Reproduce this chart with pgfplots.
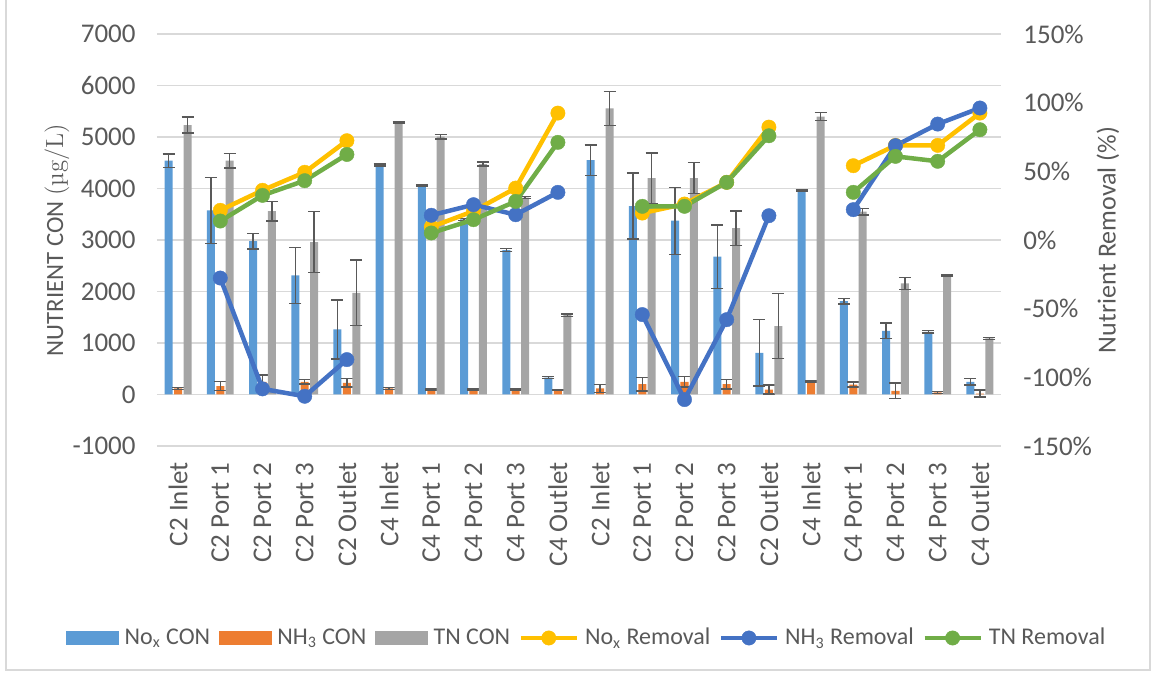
\documentclass[border=0pt]{standalone}
\usepackage{pgfplots}
\pgfplotsset{compat=1.18}
\usepackage{pgfplotstable}
\usepackage{fontspec}
\setmainfont{Carlito}

\definecolor{noxc}{HTML}{5B9BD5}
\definecolor{nh3c}{HTML}{ED7D31}
\definecolor{tnc}{HTML}{A5A5A5}
\definecolor{noxr}{HTML}{FFC000}
\definecolor{nh3r}{HTML}{4472C4}
\definecolor{tnr}{HTML}{70AD47}
\definecolor{gridc}{HTML}{D9D9D9}
\definecolor{errc}{HTML}{595959}
\definecolor{txt}{HTML}{595959}

% concentrations (ug/L) with error half-widths
\pgfplotstableread{
x nox noxe nh3 nh3e tn tne
0 4540 130 117 15 5233 155
1 3575 640 162 90 4540 140
2 2979 150 246 130 3562 190
3 2312 545 246 45 2960 595
4 1263 575 227 85 1975 635
5 4456 20 117 15 5285 15
6 4054 15 97 10 5006 45
7 3400 20 97 10 4475 40
8 2804 30 97 10 3821 20
9 330 15 84 10 1541 25
10 4553 295 117 80 5557 330
11 3659 640 200 130 4203 490
12 3374 650 246 100 4203 300
13 2675 620 200 90 3232 335
14 810 645 97 85 1328 630
15 3970 15 259 15 5395 80
16 1813 55 194 50 3549 60
17 1237 150 71 150 2157 120
18 1218 25 39 20 2319 15
19 246 65 19 65 1088 15
}\conc

% removal (%)
\pgfplotstableread{
x nox nh3 tn
0 nan nan nan
1 21.6 -27.7 13.8
2 36.2 -108.4 32.5
3 49.3 -113.8 43.2
4 72.3 -87.1 62.3
5 nan nan nan
6 9.5 18.0 5.1
7 21.0 25.7 14.8
8 37.8 18.4 28.1
9 92.4 34.7 71.1
10 nan nan nan
11 19.6 -54.3 24.5
12 26.2 -116.2 24.5
13 42.0 -58.0 42.0
14 82.2 17.7 75.9
15 nan nan nan
16 54.1 22.1 34.7
17 68.9 68.7 60.9
18 68.9 84.4 57.3
19 92.4 96.1 80.3
}\rem

\pgfplotsset{
  bars/.style={ybar, bar width=0.19, bar shift=0, fill=#1, draw=none,
    error bars/.cd, y dir=both, y explicit,
    error bar style={errc, line width=0.7pt},
    error mark options={errc, line width=0.7pt, mark size=3pt, rotate=90}},
  remline/.style={#1, line width=2.25pt, mark=*, mark size=3.6pt,
    mark options={fill=#1, draw=#1, line width=0.2pt}},
}

\begin{document}
\begin{tikzpicture}[font=\fontsize{13.5}{15.5}\selectfont, text=txt]
\useasboundingbox (0,0) rectangle (576.5pt,337pt);
\draw[gridc, line width=0.6pt] (3pt,337pt) -- (3pt,2pt) -- (575pt,2pt) -- (575pt,337pt);

\begin{axis}[
  at={(78.5pt,114pt)}, anchor=south west,
  scale only axis, width=422pt, height=206pt,
  xmin=-0.5, xmax=19.5, ymin=-1000, ymax=7000,
  ytick={-1000,0,...,7000},
  ymajorgrids, grid style={gridc, line width=0.8pt},
  axis line style={draw=none},
  xtick={0,...,19},
  xticklabels={C2 Inlet, C2 Port 1, C2 Port 2, C2 Port 3, C2 Outlet,
               C4 Inlet, C4 Port 1, C4 Port 2, C4 Port 3, C4 Outlet,
               C2 Inlet, C2 Port 1, C2 Port 2, C2 Port 3, C2 Outlet,
               C4 Inlet, C4 Port 1, C4 Port 2, C4 Port 3, C4 Outlet},
  xticklabel style={rotate=90, anchor=east, inner sep=0pt},
  xticklabel shift=8pt,
  xtick pos=left, ytick pos=left,
  xtick style={draw=none}, ytick style={draw=none},
  extra x ticks={-0.5,9.5,19.5}, extra x tick labels={},
  extra x tick style={major tick length=78pt, tick align=outside,
    tick style={draw=gridc, line width=0.8pt}},
  yticklabel style={anchor=east, inner sep=0pt},
  yticklabel shift=10.5pt,
  /pgf/number format/assume math mode=true,
  /pgf/number format/1000 sep={},
  ylabel={NUTRIENT CON {\fontfamily{lmr}\selectfont (µg/L)}},
  every axis y label/.style={at={(rel axis cs:-0.1185,0.5)}, rotate=90,
    anchor=center, font=\fontsize{12.4}{14}\selectfont},
]
\addplot[bars=noxc] table[x expr=\thisrow{x}-0.223, y=nox, y error=noxe]{\conc};
\addplot[bars=nh3c] table[x=x, y=nh3, y error=nh3e]{\conc};
\addplot[bars=tnc] table[x expr=\thisrow{x}+0.223, y=tn, y error=tne]{\conc};
\node[font=\fontsize{12}{14}\selectfont] at ([yshift=-70.5pt]axis cs:4.5,-1000) {Copper added};
\node[font=\fontsize{12}{14}\selectfont] at ([yshift=-70.5pt]axis cs:14.5,-1000) {No copper};
\end{axis}

\begin{axis}[
  at={(78.5pt,114pt)}, anchor=south west,
  scale only axis, width=422pt, height=206pt,
  xmin=-0.5, xmax=19.5, ymin=-150, ymax=150,
  ytick={-150,-100,...,150},
  axis x line=none, axis y line*=right,
  axis line style={draw=none}, ytick style={draw=none},
  yticklabel={\pgfmathprintnumber{\tick}\%},
  yticklabel style={anchor=west, inner sep=0pt},
  yticklabel shift=11pt,
  /pgf/number format/assume math mode=true,
  unbounded coords=jump,
  ylabel={Nutrient Removal (\%)},
  every axis y label/.style={at={(rel axis cs:1.1268,0.5)}, rotate=90,
    anchor=center, font=\fontsize{13}{15}\selectfont},
  legend columns=6,
  legend style={at={(rel axis cs:0.509,-0.466)}, anchor=center, draw=none,
    fill=none, font=\fontsize{12}{14}\selectfont,
    nodes={inner sep=1pt},
    /tikz/every odd column/.append style={column sep=2pt},
    /tikz/every even column/.append style={column sep=3.2pt}},
]
\addlegendimage{legend image code/.code={\fill[noxc] (0pt,-3.2pt) rectangle (26pt,3.2pt);}}
\addlegendentry{No\textsubscript{x} CON}
\addlegendimage{legend image code/.code={\fill[nh3c] (0pt,-3.2pt) rectangle (26pt,3.2pt);}}
\addlegendentry{NH\textsubscript{3} CON}
\addlegendimage{legend image code/.code={\fill[tnc] (0pt,-3.2pt) rectangle (26pt,3.2pt);}}
\addlegendentry{TN CON}
\pgfplotsset{legend image code/.code={\draw[mark repeat=2, mark phase=2]
  plot coordinates {(0pt,0pt) (14pt,0pt) (28pt,0pt)};}}
\addplot[remline=noxr] table[x=x, y=nox]{\rem};
\addlegendentry{No\textsubscript{x} Removal}
\addplot[remline=nh3r] table[x=x, y=nh3]{\rem};
\addlegendentry{NH\textsubscript{3} Removal}
\addplot[remline=tnr] table[x=x, y=tn]{\rem};
\addlegendentry{TN Removal}
\end{axis}
\end{tikzpicture}
\end{document}
